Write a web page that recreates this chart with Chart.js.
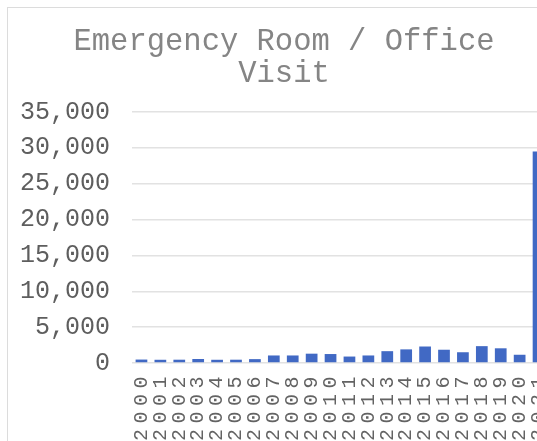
<!DOCTYPE html>
<html>
<head>
<meta charset="utf-8">
<script src="https://cdn.jsdelivr.net/npm/chart.js@4"></script>
<style>
  html, body { margin: 0; padding: 0; background: #fff; }
  #clip { position: relative; width: 537px; height: 441px; overflow: hidden; background: #fff; }
  #frame { position: absolute; left: 7px; top: 7px; width: 600px; height: 500px; border: 1.5px solid #dcdcdc; box-sizing: border-box; }
  #wrap { position: absolute; left: 0; top: 0; width: 560px; height: 460px; }
</style>
</head>
<body>
<div id="clip">
  <div id="frame"></div>
  <div id="wrap"><canvas id="c" width="560" height="460"></canvas></div>
</div>
<script>
const titleLines = ['Emergency Room / Office', 'Visit'];
const years = ['2000','2001','2002','2003','2004','2005','2006','2007','2008','2009','2010',
               '2011','2012','2013','2014','2015','2016','2017','2018','2019','2020','2021'];
const visits = [480, 450, 460, 560, 450, 460, 540, 1050, 1050, 1300, 1250,
                900, 1050, 1650, 1900, 2300, 1850, 1500, 2350, 2050, 1150, 29500];
const yTicks = [0, 5000, 10000, 15000, 20000, 25000, 30000, 35000];

const FONT = '"Liberation Mono", "DejaVu Sans Mono", monospace';

new Chart(document.getElementById('c'), {
  type: 'bar',
  data: {
    labels: years,
    datasets: [{
      label: 'Visits',
      data: visits,
      backgroundColor: '#4169c4',
      borderWidth: 0,
      barPercentage: 0.62,
      categoryPercentage: 1.0
    }]
  },
  options: {
    responsive: false,
    animation: false,
    layout: { padding: { left: 20, right: 12, top: 0, bottom: 0 } },
    plugins: {
      legend: { display: false },
      tooltip: { enabled: false },
      title: {
        display: true,
        text: titleLines,
        color: '#858585',
        font: { family: FONT, size: 30.5, weight: 'normal', lineHeight: 32 / 30.5 },
        padding: { top: 26, bottom: 22 }
      }
    },
    scales: {
      x: {
        grid: { display: false, drawTicks: false },
        border: { display: false },
        ticks: {
          autoSkip: false,
          minRotation: 90,
          maxRotation: 90,
          padding: 8,
          color: '#636363',
          font: { family: FONT, size: 20, lineHeight: 1 }
        },
        afterFit: (s) => {
          s.height = 97;
          s.paddingLeft = 0;
          s.paddingRight = 0;
          const orig = Object.getPrototypeOf(s).drawLabels;
          s.drawLabels = function (area) {
            const ctx = this.ctx;
            ctx.save();
            ctx.letterSpacing = '5.5px';
            orig.call(this, area);
            ctx.restore();
          };
        }
      },
      y: {
        min: 0,
        max: 35000,
        grid: { color: '#e2e2e2', lineWidth: 1.5, drawTicks: false },
        border: { display: false },
        afterBuildTicks: (s) => { s.ticks = yTicks.map(v => ({ value: v })); },
        ticks: {
          padding: 22,
          color: '#5e5e5e',
          font: { family: FONT, size: 25 },
          callback: (v) => Number(v).toLocaleString('en-US')
        },
        afterFit: (s) => { s.width = 112; }
      }
    }
  }
});
</script>
</body>
</html>
